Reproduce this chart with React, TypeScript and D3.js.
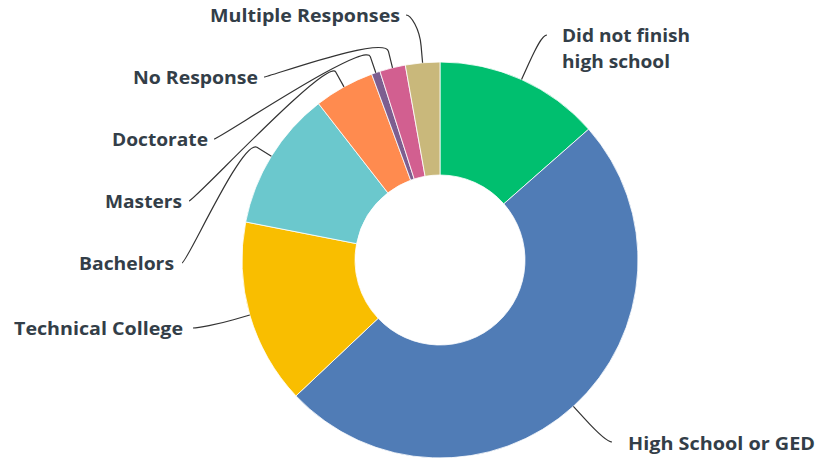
import React from "react";
import * as d3 from "d3";

const categories = [
  "Did not finish high school",
  "High School or GED",
  "Technical College",
  "Bachelors",
  "Masters",
  "Doctorate",
  "No Response",
  "Multiple Responses",
];
const values = [13.5, 49.4, 15.1, 11.4, 4.9, 0.7, 2.1, 2.8];
const colors = ["#00BF6F", "#507CB6", "#F9BE00", "#6BC8CD", "#FF8B4F", "#7D5E90", "#D25F90", "#C9B87B"];
const labelLines = [
  ["Did not finish", "high school"],
  ["High School or GED"],
  ["Technical College"],
  ["Bachelors"],
  ["Masters"],
  ["Doctorate"],
  ["No Response"],
  ["Multiple Responses"],
];

// layout: connector end point, text anchor and measured text widths for each label
const connectorEnds: [number, number][] = [
  [547, 35], [612, 442], [193, 328], [182, 263], [189, 201], [214, 139], [264, 77], [406, 15],
];
const textAnchors: { x: number; y: number; anchor: "start" | "end" }[] = [
  { x: 562, y: 42, anchor: "start" },
  { x: 628, y: 450, anchor: "start" },
  { x: 183, y: 335, anchor: "end" },
  { x: 174, y: 270, anchor: "end" },
  { x: 182, y: 208, anchor: "end" },
  { x: 208, y: 146, anchor: "end" },
  { x: 258, y: 84, anchor: "end" },
  { x: 400, y: 22, anchor: "end" },
];
const textWidths = [[128, 108], [187], [169], [95], [77], [96], [125], [190]];

const W = 832, H = 462;
const cx = 440, cy = 260, R = 198, r0 = 85, breakOffset = 17;

export default function App() {
  const pie = d3.pie<number>().sort(null).value((d) => d).startAngle(0).endAngle(2 * Math.PI);
  const arcs = pie(values);
  const arcGen = d3.arc<d3.PieArcDatum<number>>().innerRadius(r0).outerRadius(R);
  const pt = (a: number, rr: number): [number, number] => [cx + rr * Math.sin(a), cy - rr * Math.cos(a)];

  return (
    <svg width={W} height={H} style={{ position: "absolute", left: 0, top: 0, background: "#fff" }}>
      <g transform={`translate(${cx},${cy})`}>
        {arcs.map((a, i) => (
          <path key={i} d={arcGen(a) || ""} fill={colors[i]} stroke="#fff" strokeWidth={0.8} />
        ))}
      </g>
      {arcs.map((a, i) => {
        const mid = (a.startAngle + a.endAngle) / 2;
        const touch = pt(mid, R);
        const brk = pt(mid, R + breakOffset);
        const [lx, ly] = connectorEnds[i];
        const ta = textAnchors[i];
        const c1x = lx + (ta.anchor === "start" ? -5 : 5);
        const p = d3.path();
        p.moveTo(lx, ly);
        p.bezierCurveTo(c1x, ly, 2 * brk[0] - touch[0], 2 * brk[1] - touch[1], brk[0], brk[1]);
        p.lineTo(touch[0], touch[1]);
        return <path key={"c" + i} d={p.toString()} fill="none" stroke="#333" strokeWidth={1.2} />;
      })}
      {categories.map((c, i) => {
        const ta = textAnchors[i];
        return (
          <g key={"t" + i}>
            {labelLines[i].map((l, j) => (
              <text
                key={j}
                x={ta.x}
                y={ta.y + j * 26}
                textAnchor={ta.anchor}
                fontFamily="'Open Sans', sans-serif"
                fontWeight={700}
                fontSize={18}
                fill="#333E48"
                textLength={textWidths[i][j]}
                lengthAdjust="spacingAndGlyphs"
              >
                {l}
              </text>
            ))}
          </g>
        );
      })}
    </svg>
  );
}
